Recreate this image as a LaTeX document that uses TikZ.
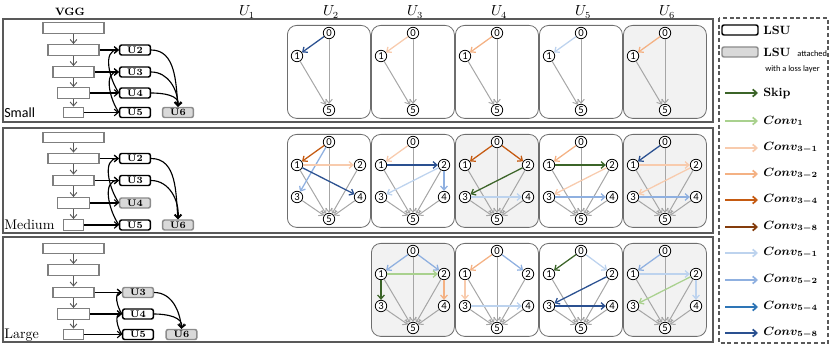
\documentclass[tikz,border=0pt]{standalone}
\usepackage{fontspec}
\newfontfamily\calibri{Carlito}
\usetikzlibrary{arrows.meta,calc,positioning}
\definecolor{panelgray}{HTML}{595959}
\definecolor{cellgray}{HTML}{6E6E6E}
\definecolor{cellfill}{HTML}{F2F2F2}
\definecolor{sinkgray}{HTML}{A6A6A6}
\definecolor{boxgray}{HTML}{7F7F7F}
\definecolor{lossgray}{HTML}{8C8C8C}
\definecolor{lossfill}{HTML}{D9D9D9}
\definecolor{darkgreen}{HTML}{3B6428}
\definecolor{lightgreen}{HTML}{A9D18E}
\definecolor{palepeach}{HTML}{F8CBAD}
\definecolor{peach}{HTML}{F4B183}
\definecolor{orange}{HTML}{C55A11}
\definecolor{brown}{HTML}{843C0C}
\definecolor{paleblue}{HTML}{BDD3EE}
\definecolor{skyblue}{HTML}{8FB0E0}
\definecolor{midblue}{HTML}{2E75B6}
\definecolor{darkblue}{HTML}{2A5090}

\newcommand{\vggstack}[6]{%
  \foreach \i/\w/\yy in {1/45.75/#2,2/38.25/#3,3/30.75/#4,4/24/#5,5/15/#6}
    \node[vggbox,minimum width=\w pt] (#1-v\i) at (73.5,\yy) {};
  \foreach \i/\j in {1/2,2/3,3/4,4/5}
    \draw[downline] (#1-v\i) -- (#1-v\j);
}
\newcommand{\cellthree}[4]{%
  \node[#4] (#1) at (#2,#3) {};
  \begin{scope}[shift={(#2,#3)}]
    \foreach \k/\kx/\ky in {0/42/8,1/10/31,5/42/85}
      \node[opnode] (#1-\k) at (\kx,\ky) {\k};
  \end{scope}
  \foreach \k in {0,1}
    \draw[sinkline] (#1-\k) -- (#1-5);
}
\newcommand{\cellsix}[4]{%
  \node[#4] (#1) at (#2,#3) {};
  \begin{scope}[shift={(#2,#3)}]
    \foreach \k/\kx/\ky in {0/42/8,1/10/31,2/73/31,3/10/63,4/73/63,5/42/85}
      \node[opnode] (#1-\k) at (\kx,\ky) {\k};
  \end{scope}
  \foreach \k in {0,...,4}
    \draw[sinkline] (#1-\k) -- (#1-5);
}

\begin{document}
\begin{tikzpicture}[
  x=0.75pt,
  y=-0.75pt,
  >={Straight Barb[length=2.9pt,width=5pt]},
  headtext/.style={inner sep=0pt, font=\fontsize{10.5}{12}\selectfont},
  tagtext/.style={anchor=west, inner sep=0pt, font=\fontsize{10.5}{12}\selectfont},
  panel/.style={draw=panelgray, line width=1.3pt},
  vggbox/.style={
    draw=boxgray,
    fill=white,
    line width=0.9pt,
    minimum height=8pt,
    inner sep=0pt
  },
  downline/.style={->, draw=panelgray, line width=0.7pt},
  lsu/.style={
    draw=black,
    line width=1.1pt,
    rounded corners=1.5pt,
    minimum width=23pt,
    minimum height=7.5pt,
    inner sep=0pt,
    font=\fontsize{7.2}{8}\selectfont\bfseries
  },
  lsuloss/.style={lsu, draw=lossgray, fill=lossfill},
  feed/.style={->, line width=0.85pt},
  cellbox/.style={
    draw=cellgray,
    line width=0.6pt,
    rounded corners=7pt,
    anchor=north west,
    minimum width=62.25pt,
    minimum height=69.75pt,
    inner sep=0pt
  },
  graycell/.style={cellbox, fill=cellfill},
  opnode/.style={
    circle,
    draw,
    fill=white,
    line width=0.6pt,
    minimum size=8.6pt,
    inner sep=0pt,
    font=\calibri\fontsize{8}{8}\selectfont
  },
  sinkline/.style={->, draw=sinkgray, line width=0.75pt},
  opline/.style={->, line width=0.95pt},
  keyframe/.style={draw=panelgray, line width=0.9pt, dash pattern=on 3pt off 2pt},
  keytext/.style={anchor=west, inner sep=0pt, font=\fontsize{9}{10}\selectfont\bfseries\boldmath},
  keynote/.style={inner sep=0pt, font=\calibri\fontsize{6.3}{7}\selectfont},
  keyline/.style={->, line width=1.3pt, >={Straight Barb[length=3pt,width=5.5pt]}}
]

\useasboundingbox (0,0) rectangle (830,348);

\node[headtext] (vgghead) at (70,12) {\fontsize{8}{10}\selectfont\bfseries VGG};
\foreach \i in {1,...,6}
  \node[headtext] (uhead\i) at ({163+84*\i},12) {$U_{\i}$};

\draw[panel] (3,19) rectangle (713,122);
\draw[panel] (3,128) rectangle (713,233);
\draw[panel] (3,237) rectangle (713,342);

\node[tagtext, font=\calibri\fontsize{10.5}{12}\selectfont] (smalltag) at (4,113) {Small};
\node[tagtext] (mediumtag) at (4,225) {Medium};
\node[tagtext] (largetag) at (4,335) {Large};

\vggstack{s}{28}{50}{72}{93}{112.5}
\vggstack{m}{137.5}{158.5}{180.5}{203}{225}
\vggstack{l}{248.5}{270}{292.5}{314}{334.5}

\node[lsu] (s-u2) at (135,50) {U2};
\node[lsu] (s-u3) at (135,72) {U3};
\node[lsu] (s-u4) at (135,93) {U4};
\node[lsu] (s-u5) at (135,112.5) {U5};
\node[lsuloss] (s-u6) at (178,112.5) {U6};
\foreach \i in {2,...,5}
  \draw[feed] (s-v\i) -- (s-u\i);
\draw[feed] (s-u4.west) to[out=125,in=180] (s-u2.west);
\draw[feed] (s-u5.west) to[out=125,in=180] (s-u3.west);
\draw[feed] (s-u2.east) to[out=0,in=95] (s-u6.north);
\draw[feed] (s-u3.east) to[out=0,in=90] (s-u6.north);
\draw[feed] (s-u4.east) to[out=0,in=80] (s-u6.north);

\node[lsu] (m-u2) at (135,158.5) {U2};
\node[lsu] (m-u3) at (135,180.5) {U3};
\node[lsuloss] (m-u4) at (135,203) {U4};
\node[lsu] (m-u5) at (135,225) {U5};
\node[lsuloss] (m-u6) at (178,225) {U6};
\foreach \i in {2,...,5}
  \draw[feed] (m-v\i) -- (m-u\i);
\draw[feed] (m-u4.west) to[out=125,in=180] (m-u2.west);
\draw[feed] (m-u5.west) to[out=125,in=180] (m-u3.west);
\draw[feed] (m-u2.east) to[out=0,in=95] (m-u6.north);
\draw[feed] (m-u3.east) to[out=0,in=85] (m-u6.north);

\node[lsuloss] (l-u3) at (138,292.5) {U3};
\node[lsu] (l-u4) at (138,314) {U4};
\node[lsu] (l-u5) at (138,334.5) {U5};
\node[lsuloss] (l-u6) at (181.5,334.5) {U6};
\foreach \i in {3,...,5}
  \draw[feed] (l-v\i) -- (l-u\i);
\draw[feed] (l-u4.west) to[out=125,in=180] (l-u3.west);
\draw[feed] (l-u5.west) to[out=125,in=180] (l-u4.west);
\draw[feed] (l-u3.east) to[out=0,in=95] (l-u6.north);
\draw[feed] (l-u4.east) to[out=0,in=80] (l-u6.north);

\cellthree{s2}{287}{25}{cellbox}
\cellthree{s3}{371}{25}{cellbox}
\cellthree{s4}{455}{25}{cellbox}
\cellthree{s5}{539}{25}{cellbox}
\cellthree{s6}{623}{25}{graycell}
\draw[opline,darkblue] (s2-0) -- (s2-1);
\draw[opline,palepeach] (s3-0) -- (s3-1);
\draw[opline,peach] (s4-0) -- (s4-1);
\draw[opline,paleblue] (s5-0) -- (s5-1);
\draw[opline,peach] (s6-0) -- (s6-1);

\cellsix{m2}{287}{134}{cellbox}
\cellsix{m3}{371}{134}{cellbox}
\cellsix{m4}{455}{134}{graycell}
\cellsix{m5}{539}{134}{cellbox}
\cellsix{m6}{623}{134}{graycell}
\draw[opline,orange] (m2-0) -- (m2-1);
\draw[opline,skyblue] (m2-0) -- (m2-3);
\draw[opline,palepeach] (m2-1) -- (m2-2);
\draw[opline,darkblue] (m2-1) -- (m2-4);
\draw[opline,palepeach] (m3-0) -- (m3-1);
\draw[opline,darkblue] (m3-1) -- (m3-2);
\draw[opline,paleblue] (m3-2) -- (m3-3);
\draw[opline,skyblue] (m3-2) -- (m3-4);
\draw[opline,orange] (m4-0) -- (m4-1);
\draw[opline,orange] (m4-0) -- (m4-2);
\draw[opline,darkgreen] (m4-2) -- (m4-3);
\draw[opline,paleblue] (m4-3) -- (m4-4);
\draw[opline,peach] (m5-0) -- (m5-1);
\draw[opline,darkgreen] (m5-1) -- (m5-2);
\draw[opline,palepeach] (m5-2) -- (m5-3);
\draw[opline,skyblue] (m5-3) -- (m5-4);
\draw[opline,darkblue] (m6-0) -- (m6-1);
\draw[opline,palepeach] (m6-1) -- (m6-2);
\draw[opline,palepeach] (m6-2) -- (m6-3);
\draw[opline,skyblue] (m6-3) -- (m6-4);

\cellsix{l3}{371}{243}{graycell}
\cellsix{l4}{455}{243}{cellbox}
\cellsix{l5}{539}{243}{cellbox}
\cellsix{l6}{623}{243}{graycell}
\draw[opline,skyblue] (l3-0) -- (l3-1);
\draw[opline,skyblue] (l3-0) -- (l3-2);
\draw[opline,lightgreen] (l3-1) -- (l3-2);
\draw[opline,darkgreen] (l3-1) -- (l3-3);
\draw[opline,peach] (l3-2) -- (l3-4);
\draw[opline,peach] (l4-0) -- (l4-1);
\draw[opline,skyblue] (l4-0) -- (l4-2);
\draw[opline,palepeach] (l4-1) -- (l4-3);
\draw[opline,paleblue] (l4-3) -- (l4-4);
\draw[opline,darkgreen] (l5-0) -- (l5-1);
\draw[opline,paleblue] (l5-0) -- (l5-2);
\draw[opline,darkblue] (l5-2) -- (l5-3);
\draw[opline,darkblue] (l5-3) -- (l5-4);
\draw[opline,skyblue] (l6-0) -- (l6-1);
\draw[opline,paleblue] (l6-1) -- (l6-2);
\draw[opline,lightgreen] (l6-2) -- (l6-3);
\draw[opline,paleblue] (l6-2) -- (l6-4);

\draw[keyframe] (719,18) rectangle (828,343);
\node[lsu, minimum width=27pt] (keylsu) at (740,30) {};
\node[keytext] (keylsutext) at (763,30) {LSU};
\node[lsuloss, minimum width=27pt] (keyloss) at (740,52) {};
\node[keytext] (keylosstext) at (763,52) {LSU \,{\calibri\mdseries\fontsize{6.3}{7}\selectfont attached}};
\node[keynote, anchor=west] (keylossnote) at (765,69) {with a loss layer};

\foreach \c/\t/\yy [count=\n] in {
    darkgreen/Skip/93,
    lightgreen/{$Conv_{1}$}/121,
    palepeach/{$Conv_{3-1}$}/148,
    peach/{$Conv_{3-2}$}/174,
    orange/{$Conv_{3-4}$}/200,
    brown/{$Conv_{3-8}$}/227,
    paleblue/{$Conv_{5-1}$}/253,
    skyblue/{$Conv_{5-2}$}/280,
    midblue/{$Conv_{5-4}$}/307,
    darkblue/{$Conv_{5-8}$}/333}{
  \coordinate (keyfrom\n) at (725,\yy);
  \coordinate (keyto\n) at (758,\yy);
  \draw[keyline,\c] (keyfrom\n) -- (keyto\n);
  \node[keytext] (key\n) at (763,\yy) {\t};
}

\end{tikzpicture}
\end{document}
